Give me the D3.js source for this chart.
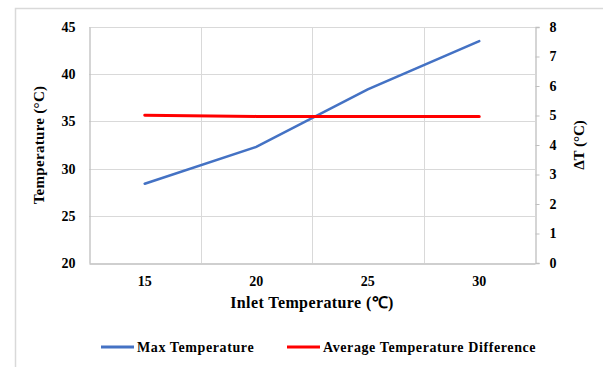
<!DOCTYPE html>
<html><head><meta charset="utf-8">
<script src="https://cdn.jsdelivr.net/npm/d3@7"></script>
<style>
body{margin:0;background:#fff;}
svg{display:block;}
text{font-family:"Liberation Serif","Times New Roman",serif;font-weight:bold;fill:#000;}
</style></head>
<body>
<svg id="c" width="603" height="367"></svg>
<script>
const categories = [15, 20, 25, 30];
const maxTemperature = [28.4, 32.3, 38.4, 43.5];
const avgTempDifference = [5.01, 4.97, 4.97, 4.97];
const leftTicks = [20, 25, 30, 35, 40, 45];
const rightTicks = [0, 1, 2, 3, 4, 5, 6, 7, 8];
const seriesNames = ["Max Temperature", "Average Temperature Difference"];
const seriesColors = ["#4472C4", "#FF0000"];

const svg = d3.select("#c");
const L = 89, R = 535, T = 27, B = 263;

// outer chart border
svg.append("rect").attr("x", 15.5).attr("y", 8.5).attr("width", 620).attr("height", 400)
  .attr("fill", "none").attr("stroke", "#d9d9d9").attr("stroke-width", 1.5);

const x = d3.scaleBand().domain(categories).range([L, R]).padding(0);
const yL = d3.scaleLinear().domain([20, 45]).range([B, T]);
const yR = d3.scaleLinear().domain([0, 8]).range([B, T]);
const cx = c => x(c) + x.bandwidth() / 2;

// horizontal gridlines
svg.append("g").selectAll("line").data(leftTicks.slice(1)).join("line")
  .attr("x1", L).attr("x2", R).attr("y1", d => Math.round(yL(d)) + 0.5).attr("y2", d => Math.round(yL(d)) + 0.5)
  .attr("stroke", "#d9d9d9").attr("stroke-width", 1);
// vertical gridlines at band boundaries
svg.append("g").selectAll("line").data(categories.slice(1)).join("line")
  .attr("x1", d => Math.round(x(d)) + 0.5).attr("x2", d => Math.round(x(d)) + 0.5).attr("y1", T).attr("y2", B)
  .attr("stroke", "#d9d9d9").attr("stroke-width", 1);

const ff = '"Liberation Serif","Times New Roman",serif';

// left axis
const gl = svg.append("g").attr("transform", `translate(${L + 0.5},0)`)
  .call(d3.axisLeft(yL).tickValues(leftTicks).tickSize(0).tickPadding(14));
gl.select(".domain").attr("stroke", "#bfbfbf").attr("stroke-width", 1.3);
gl.selectAll("text").style("font-size", "14px").style("font-family", ff).style("font-weight", "bold");

// right axis
const gr = svg.append("g").attr("transform", `translate(${R + 0.5},0)`)
  .call(d3.axisRight(yR).tickValues(rightTicks).tickSize(4).tickPadding(10));
gr.select(".domain").attr("stroke", "#bfbfbf").attr("stroke-width", 1.3);
gr.selectAll("line").attr("stroke", "#bfbfbf");
gr.selectAll("text").style("font-size", "14px").style("font-family", ff).style("font-weight", "bold");

// bottom axis
const gb = svg.append("g").attr("transform", `translate(0,${B + 0.5})`)
  .call(d3.axisBottom(x).tickSize(0).tickPadding(13));
gb.select(".domain").attr("stroke", "#bfbfbf").attr("stroke-width", 1.3);
gb.selectAll("text").style("font-size", "14px").style("font-family", ff).style("font-weight", "bold");

// series lines
const lineL = d3.line().x((d, i) => cx(categories[i])).y(d => yL(d));
const lineR = d3.line().x((d, i) => cx(categories[i])).y(d => yR(d));
svg.append("path").datum(maxTemperature).attr("d", lineL).attr("fill", "none")
  .attr("stroke", seriesColors[0]).attr("stroke-width", 2.6).attr("stroke-linecap", "round");
svg.append("path").datum(avgTempDifference).attr("d", lineR).attr("fill", "none")
  .attr("stroke", seriesColors[1]).attr("stroke-width", 3).attr("stroke-linecap", "round");

// axis titles
svg.append("text").attr("transform", `translate(44,${(T + B) / 2}) rotate(-90)`)
  .attr("text-anchor", "middle").style("font-size", "15px").style("letter-spacing", "0.3px").text("Temperature (°C)");
svg.append("text").attr("transform", `translate(584,${(T + B) / 2}) rotate(-90)`)
  .attr("text-anchor", "middle").style("font-size", "15px").text("ΔT (°C)");
svg.append("text").attr("x", (L + R) / 2).attr("y", 308)
  .attr("text-anchor", "middle").style("font-size", "16px").style("letter-spacing", "0.4px").text("Inlet Temperature (℃)");

// legend
const leg = [{x: 101, name: seriesNames[0], color: seriesColors[0]}, {x: 287, name: seriesNames[1], color: seriesColors[1]}];
const lg = svg.append("g").selectAll("g").data(leg).join("g");
lg.append("line").attr("x1", d => d.x).attr("x2", d => d.x + 33).attr("y1", 347).attr("y2", 347)
  .attr("stroke", d => d.color).attr("stroke-width", 3);
lg.append("text").attr("x", d => d.x + 36).attr("y", 352).style("font-size", "14px").style("letter-spacing", "0.6px").text(d => d.name);
</script>
</body></html>
